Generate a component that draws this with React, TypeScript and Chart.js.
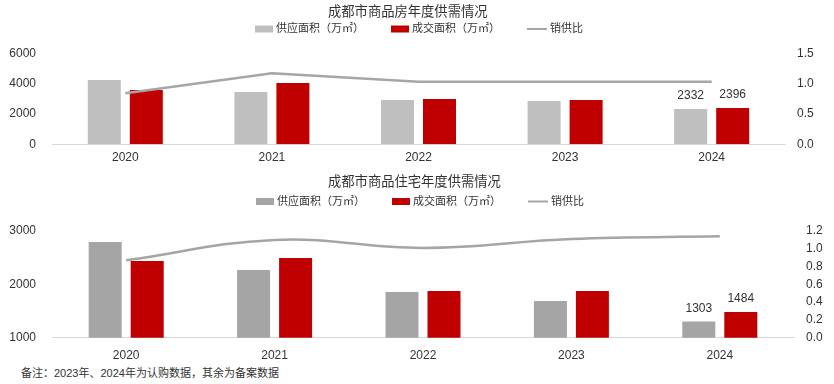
import React, { useEffect, useRef } from 'react';
import { Chart, registerables } from 'chart.js';
Chart.register(...registerables);

const years = ['2020', '2021', '2022', '2023', '2024'];
// 商品房
const allSupply = [4240, 3450, 2920, 2860, 2332];
const allDeal = [3580, 4040, 2990, 2920, 2396];
const allRatio = [0.84, 1.17, 1.03, 1.03, 1.03];
// 商品住宅
const resSupply = [2795, 2270, 1857, 1690, 1303];
const resDeal = [2440, 2495, 1875, 1875, 1484];
const resRatio = [0.87, 1.1, 1.01, 1.11, 1.14];

const topTitle = '成都市商品房年度供需情况';
const bottomTitle = '成都市商品住宅年度供需情况';
const labelSupply = '供应面积（万㎡）';
const labelDeal = '成交面积（万㎡）';
const labelRatio = '销供比';
const footnote = '备注：2023年、2024年为认购数据，其余为备案数据';

const FONT = '"Liberation Sans", Arial, "Noto Sans CJK SC", sans-serif';
const TEXT = '#333333';
const RED = '#C00000';

const headerPlugin = {
  id: 'header',
  afterDraw(chart: any, _args: any, opts: any) {
    const ctx = chart.ctx;
    ctx.save();
    // title
    ctx.font = `13.3px ${FONT}`;
    ctx.fillStyle = TEXT;
    ctx.textBaseline = 'middle';
    ctx.textAlign = 'left';
    ctx.fillText(opts.title, opts.titleX, opts.titleY);
    // legend
    const items = opts.items || [];
    ctx.font = `11px ${FONT}`;
    const boxW = 18, gapText = 3, gapItem = 27;
    let x = opts.legendX;
    const y = opts.legendY;
    items.forEach((it: any) => {
      const w = it.type === 'line' ? 20 : boxW;
      if (it.type === 'line') {
        ctx.strokeStyle = it.color;
        ctx.lineWidth = 2;
        ctx.beginPath();
        ctx.moveTo(x, y);
        ctx.lineTo(x + w, y);
        ctx.stroke();
      } else {
        ctx.fillStyle = it.color;
        ctx.fillRect(x, y - 3.5, w, 7);
      }
      ctx.fillStyle = TEXT;
      ctx.fillText(it.text, x + w + gapText, y);
      x += w + gapText + ctx.measureText(it.text).width + gapItem;
    });
    ctx.restore();
  },
};

const barLabelPlugin = {
  id: 'barLabels',
  afterDatasetsDraw(chart: any, _args: any, opts: any) {
    const ctx = chart.ctx;
    ctx.save();
    ctx.font = `12px ${FONT}`;
    ctx.fillStyle = TEXT;
    ctx.textAlign = 'center';
    ctx.textBaseline = 'middle';
    (opts.datasets || []).forEach((di: number) => {
      const meta = chart.getDatasetMeta(di);
      const idx = opts.index;
      const el = meta.data[idx];
      const v = chart.data.datasets[di].data[idx];
      ctx.fillText(String(v), el.x, el.y - 13);
    });
    ctx.restore();
  },
};

function makeConfig(p: any) {
  const tickFont = { size: 12, family: FONT };
  return {
    type: 'bar',
    data: {
      labels: years,
      datasets: [
        {
          type: 'line',
          label: labelRatio,
          data: p.ratio,
          yAxisID: 'y1',
          borderColor: p.lineColor,
          borderWidth: 2.5,
          pointRadius: 0,
          tension: p.tension,
          fill: false,
          order: 0,
        },
        {
          label: labelSupply,
          data: p.supply,
          backgroundColor: p.grey,
          yAxisID: 'y',
          categoryPercentage: p.catPct,
          barPercentage: 0.786,
          order: 1,
        },
        {
          label: labelDeal,
          data: p.deal,
          backgroundColor: RED,
          yAxisID: 'y',
          categoryPercentage: p.catPct,
          barPercentage: 0.786,
          order: 2,
        },
      ],
    },
    options: {
      responsive: false,
      animation: false,
      devicePixelRatio: 1,
      layout: { padding: { top: p.plotTop, left: 0, right: 0, bottom: 0 } },
      plugins: {
        legend: { display: false },
        tooltip: { enabled: false },
        title: { display: false },
        header: {
          title: p.title,
          titleX: 328,
          titleY: p.titleY,
          legendX: p.legendX,
          legendY: p.legendY,
          items: [
            { type: 'box', color: p.grey, text: labelSupply },
            { type: 'box', color: RED, text: labelDeal },
            { type: 'line', color: p.lineColor, text: labelRatio },
          ],
        },
        barLabels: { datasets: [1, 2], index: 4 },
      },
      scales: {
        x: {
          grid: { display: false, drawTicks: false },
          border: { display: true, color: '#D9D9D9', width: 1 },
          ticks: { padding: p.xPad, color: TEXT, font: tickFont },
          afterFit: (s: any) => { s.height = p.xHeight; },
        },
        y: {
          position: 'left',
          min: p.yMin,
          max: p.yMax,
          grid: { display: false, drawTicks: false },
          border: { display: false },
          ticks: {
            stepSize: p.yStep,
            padding: 16,
            color: TEXT,
            font: tickFont,
            callback: (v: any) => String(v),
          },
          afterFit: (s: any) => { s.width = 52; },
        },
        y1: {
          position: 'right',
          min: 0,
          max: p.rMax,
          grid: { display: false, drawTicks: false },
          border: { display: false },
          ticks: {
            stepSize: p.rStep,
            padding: 12,
            color: TEXT,
            font: tickFont,
            callback: (v: any) => Number(v).toFixed(1),
          },
          afterFit: (s: any) => { s.width = p.rWidth; },
        },
      },
    },
    plugins: [headerPlugin, barLabelPlugin],
  };
}

function ChartCanvas({ cfg, width, height }: any) {
  const ref = useRef<HTMLCanvasElement>(null);
  useEffect(() => {
    const chart = new Chart(ref.current as HTMLCanvasElement, cfg as any);
    return () => chart.destroy();
  }, []);
  return <canvas ref={ref} width={width} height={height} style={{ display: 'block', width, height }} />;
}

export default function App() {
  const topCfg = makeConfig({
    title: topTitle,
    supply: allSupply,
    deal: allDeal,
    ratio: allRatio,
    grey: '#BFBFBF',
    lineColor: '#A6A6A6',
    tension: 0,
    catPct: 0.573,
    plotTop: 53.3,
    titleY: 12.5,
    legendX: 255,
    legendY: 29,
    xPad: 6.5,
    xHeight: 25.7,
    yMin: 0,
    yMax: 6000,
    yStep: 2000,
    rMax: 1.5,
    rStep: 0.5,
    rWidth: 49,
  });
  const bottomCfg = makeConfig({
    title: bottomTitle,
    supply: resSupply,
    deal: resDeal,
    ratio: resRatio,
    grey: '#A5A5A5',
    lineColor: '#A5A5A5',
    tension: 0.4,
    catPct: 0.566,
    plotTop: 60,
    titleY: 11.8,
    legendX: 256,
    legendY: 30.5,
    xPad: 10.5,
    xHeight: 25.3,
    yMin: 1000,
    yMax: 3000,
    yStep: 1000,
    rMax: 1.2,
    rStep: 0.2,
    rWidth: 40,
  });
  return (
    <div style={{ position: 'fixed', left: 0, top: 0, width: 834, height: 384, background: '#fff', overflow: 'hidden' }}>
      <div style={{ position: 'absolute', left: 0, top: 0 }}>
        <ChartCanvas cfg={topCfg} width={834} height={170} />
      </div>
      <div style={{ position: 'absolute', left: 0, top: 171 }}>
        <ChartCanvas cfg={bottomCfg} width={834} height={192} />
      </div>
      <div
        style={{
          position: 'absolute',
          left: 21,
          top: 366,
          fontSize: 11,
          lineHeight: '15px',
          fontFamily: FONT,
          color: TEXT,
          whiteSpace: 'nowrap',
        }}
      >
        {footnote}
      </div>
    </div>
  );
}
